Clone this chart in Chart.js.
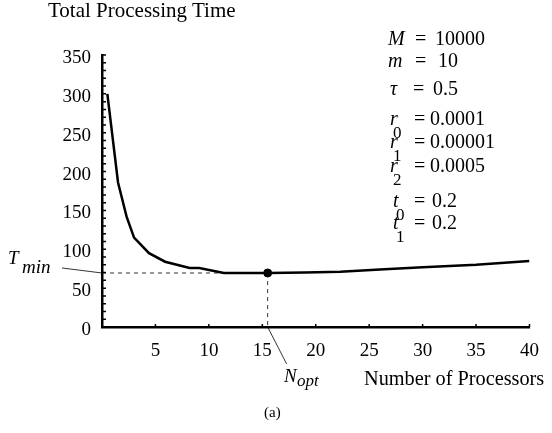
<!DOCTYPE html>
<html>
<head>
<meta charset="utf-8">
<script src="https://cdn.jsdelivr.net/npm/chart.js@4.4.1/dist/chart.umd.min.js"></script>
<style>
  html, body { margin: 0; padding: 0; background: #fff; }
  #wrap { position: relative; width: 552px; height: 433px; overflow: hidden; font-family: 'Liberation Serif', 'Times New Roman', serif; color: #000; }
  #wrap canvas { position: absolute; left: 0; top: 0; }
  .t { position: absolute; white-space: nowrap; line-height: 1; }
  .i { font-style: italic; }
</style>
</head>
<body>
<div id="wrap"><canvas id="chart" width="552" height="433"></canvas></div>
<script>
// Données (a)
const procCounts = [0.5, 1.5, 2.3, 3, 4.4, 5.9, 8.2, 9.1, 11.4, 15.5, 19, 22.3, 26, 30, 35, 40];
const totalTime = [300, 186, 142, 115, 95, 84, 76, 76, 69.5, 69.5, 70, 71, 74, 77, 80, 85];
const optN = 15.5;
const tMin = 69.5;
const xTicks = [0, 5, 10, 15, 20, 25, 30, 35, 40];
const yTicks = [0, 50, 100, 150, 200, 250, 300, 350];

// Paramètres affichés à droite : symbole, indice, valeur
const paramSymbols = ['M', 'm', '\u03c4', 'r', 'r', 'r', 't', 't'];
const paramSubs = ['', '', '', '0', '1', '2', '0', '1'];
const paramValues = ['10000', '10', '0.5', '0.0001', '0.00001', '0.0005', '0.2', '0.2'];

const FONT = "'Liberation Serif', 'Times New Roman', serif";
const wrap = document.getElementById('wrap');

/**
 * Place un texte HTML avec sa ligne de base en (x, base)
 */
function put(text, x, base, size, italic) {
  const el = document.createElement('div');
  el.className = 't' + (italic ? ' i' : '');
  el.style.fontSize = size + 'px';
  el.style.left = x + 'px';
  el.style.top = (base - 0.8375 * size) + 'px';
  el.textContent = text;
  wrap.appendChild(el);
  return el;
}

// Titres des axes
put('Total Processing Time', 48, 18, 21, false);
put('Number of Processors', 364, 385, 20.3, false);
put('(a)', 264, 418, 15, false);

// Bloc des paramètres
const paramBase = [45, 67, 95, 125, 148, 172, 207, 229];
const paramSymX = [388, 388, 390, 390, 390, 390, 393, 393];
const paramEqX = [415, 415, 413, 414, 414, 414, 414, 414];
const paramValX = [435, 438, 433, 430, 430, 430, 432, 432];
paramSymbols.forEach((s, i) => {
  put(s, paramSymX[i], paramBase[i], 20, true);
  if (paramSubs[i]) put(paramSubs[i], paramSymX[i] + 3, paramBase[i] + 13, 17, false);
  put('=', paramEqX[i], paramBase[i], 20, false);
  put(paramValues[i], paramValX[i], paramBase[i], 20, false);
});

// Etiquettes T_min et N_opt
put('T', 8, 264, 19, true);
put('min', 22, 273, 19, true);
put('N', 284, 382, 19, true);
put('opt', 297, 386, 17, true);

/**
 * Graduations secondaires et traits de rappel
 */
const axisMarks = {
  id: 'axisMarks',
  afterDatasetsDraw(chart) {
    const c = chart.ctx;
    const xs = chart.scales.x;
    const ys = chart.scales.y;
    const area = chart.chartArea;
    c.save();
    c.strokeStyle = '#000';
    c.lineWidth = 1.5;
    c.beginPath();
    for (let v = 0; v <= 350; v += 10) {
      const py = ys.getPixelForValue(v);
      c.moveTo(area.left, py);
      c.lineTo(area.left + 4, py);
    }
    xTicks.forEach(v => {
      if (v === 0) return;
      const px = xs.getPixelForValue(v);
      c.moveTo(px, area.bottom);
      c.lineTo(px, area.bottom - 3);
    });
    c.stroke();

    c.lineWidth = 0.8;
    c.beginPath();
    const ty = ys.getPixelForValue(tMin);
    c.moveTo(area.left, ty);
    c.lineTo(area.left - 40, ty - 5);
    const nx = xs.getPixelForValue(optN);
    c.moveTo(nx, area.bottom);
    c.lineTo(nx + 19, area.bottom + 37);
    c.stroke();
    c.restore();
  }
};

const curve = procCounts.map((n, i) => ({ x: n, y: totalTime[i] }));

new Chart(document.getElementById('chart'), {
  type: 'scatter',
  data: {
    datasets: [
      {
        data: [{ x: optN, y: tMin }],
        pointRadius: 4,
        backgroundColor: '#000',
        borderColor: '#000'
      },
      {
        data: curve,
        showLine: true,
        borderColor: '#000',
        borderWidth: 2.5,
        pointRadius: 0,
        tension: 0
      },
      {
        data: [{ x: 0, y: tMin }, { x: optN, y: tMin }],
        showLine: true,
        borderColor: '#333',
        borderWidth: 1,
        borderDash: [4, 4],
        pointRadius: 0
      },
      {
        data: [{ x: optN, y: tMin }, { x: optN, y: 0 }],
        showLine: true,
        borderColor: '#333',
        borderWidth: 1,
        borderDash: [4, 4],
        pointRadius: 0
      }
    ]
  },
  options: {
    responsive: false,
    animation: false,
    devicePixelRatio: 1,
    layout: { padding: { top: 55, right: 10, left: 0, bottom: 0 } },
    plugins: {
      legend: { display: false },
      tooltip: { enabled: false }
    },
    scales: {
      x: {
        type: 'linear',
        min: 0,
        max: 40,
        grid: { display: false, drawTicks: false },
        border: { display: true, color: '#000', width: 2.5 },
        ticks: {
          stepSize: 5,
          padding: 13,
          color: '#000',
          font: { family: FONT, size: 19 },
          callback: v => (xTicks.includes(v) && v !== 0) ? String(v) : ''
        },
        afterFit: s => { s.height = 106; }
      },
      y: {
        min: 0,
        max: 350,
        grid: { display: false, drawTicks: false },
        border: { display: true, color: '#000', width: 2.5 },
        ticks: {
          stepSize: 50,
          padding: 11,
          labelOffset: 3,
          color: '#000',
          font: { family: FONT, size: 19 },
          callback: v => yTicks.includes(v) ? String(v) : ''
        },
        afterFit: s => { s.width = 102; }
      }
    }
  },
  plugins: [axisMarks]
});
</script>
</body>
</html>
